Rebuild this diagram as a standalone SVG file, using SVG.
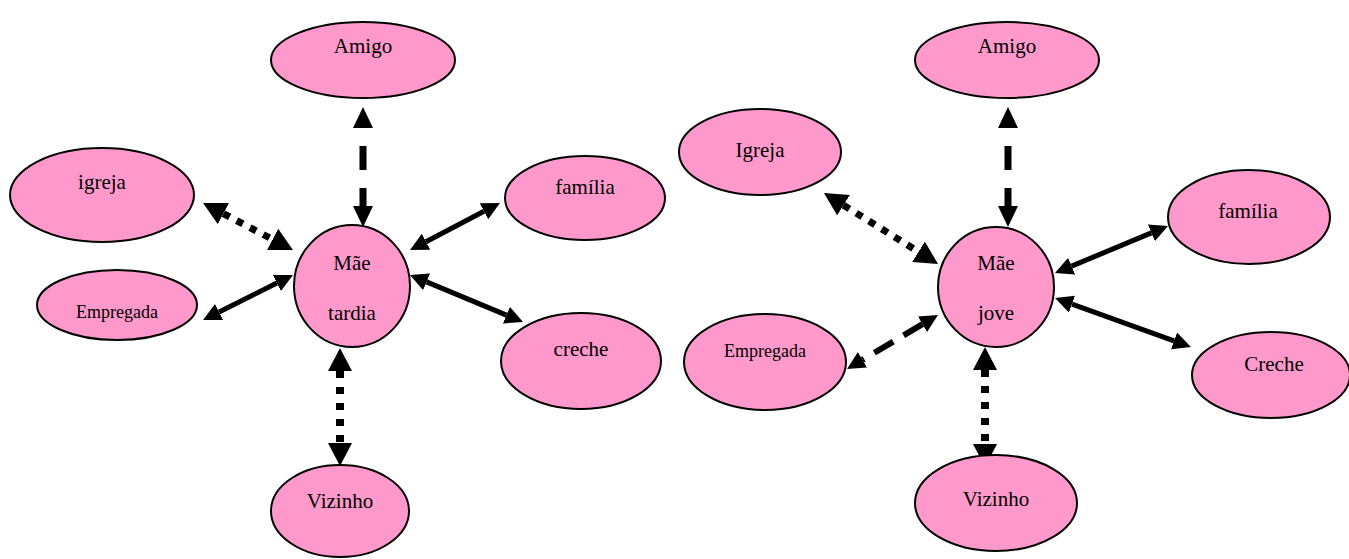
<svg xmlns="http://www.w3.org/2000/svg" width="1349" height="559" viewBox="0 0 1349 559">
<style>
.n ellipse{fill:#FF99CC;stroke:#000;stroke-width:2}
.n text{font-family:'Liberation Serif','DejaVu Serif',serif;font-size:21px;fill:#000;text-anchor:middle}
.n text.s{font-size:18px}
.c line{stroke:#000;fill:none}
.solid{stroke-width:5}
.dash{stroke-width:7;stroke-dasharray:24 18;stroke-dashoffset:24}
.dash2{stroke-width:6;stroke-dasharray:22 12}
.dot{stroke-width:7;stroke-dasharray:7 8}
.dotv{stroke-width:8;stroke-dasharray:7 9}
</style>
<defs>
<marker id="hs" markerUnits="userSpaceOnUse" markerWidth="20" markerHeight="18" refX="0" refY="9" orient="auto-start-reverse" viewBox="0 0 20 18"><path d="M0,0 L18,9 L0,18 z" fill="#000"/></marker>
<marker id="hd" markerUnits="userSpaceOnUse" markerWidth="22" markerHeight="20" refX="0" refY="10" orient="auto-start-reverse" viewBox="0 0 22 20"><path d="M0,0 L21,10 L0,20 z" fill="#000"/></marker>
<marker id="ht" markerUnits="userSpaceOnUse" markerWidth="24" markerHeight="24" refX="0" refY="12" orient="auto-start-reverse" viewBox="0 0 24 24"><path d="M0,0 L23,12 L0,24 z" fill="#000"/></marker>
</defs>
<g class="c" id="connectors">
<line class="dash" x1="363" y1="128" x2="363" y2="206" marker-start="url(#hd)" marker-end="url(#hd)"/>
<line class="dot" x1="223.4" y1="213.6" x2="272.6" y2="239.4" marker-start="url(#ht)" marker-end="url(#ht)"/>
<line class="solid" x1="484" y1="211.3" x2="426" y2="241.7" marker-start="url(#hs)" marker-end="url(#hs)"/>
<line class="solid" x1="276.9" y1="283.1" x2="219.1" y2="311.9" marker-start="url(#hs)" marker-end="url(#hs)"/>
<line class="solid" x1="426.6" y1="281.9" x2="506.4" y2="315.1" marker-start="url(#hs)" marker-end="url(#hs)"/>
<line class="dotv" x1="340" y1="371" x2="340" y2="443" marker-start="url(#ht)" marker-end="url(#ht)"/>
<line class="dash" x1="1008" y1="128" x2="1008" y2="206" marker-start="url(#hd)" marker-end="url(#hd)"/>
<line class="dot" x1="843.5" y1="205.2" x2="918.5" y2="251.8" marker-start="url(#ht)" marker-end="url(#ht)"/>
<line class="solid" x1="1151.4" y1="232.9" x2="1071.6" y2="266.1" marker-start="url(#hs)" marker-end="url(#hs)"/>
<line class="solid" x1="1072" y1="304.1" x2="1174" y2="340.9" marker-start="url(#hs)" marker-end="url(#hs)"/>
<line class="dash2" x1="922.5" y1="324.2" x2="862.5" y2="359.8" marker-start="url(#hs)" marker-end="url(#hs)"/>
<line class="dotv" x1="985" y1="370" x2="985" y2="444" marker-start="url(#ht)" marker-end="url(#ht)"/>
</g>
<g class="n" id="l-amigo"><ellipse cx="363" cy="60" rx="92" ry="38"/><text x="363" y="53" font-family="Liberation Serif, serif">Amigo</text></g>
<g class="n" id="l-igreja"><ellipse cx="102" cy="195" rx="92" ry="47"/><text x="102" y="189" font-family="Liberation Serif, serif">igreja</text></g>
<g class="n" id="l-familia"><ellipse cx="585" cy="198" rx="80" ry="42"/><text x="585" y="194" font-family="Liberation Serif, serif">família</text></g>
<g class="n" id="l-empregada"><ellipse cx="117" cy="305" rx="80" ry="35"/><text class="s" x="117" y="318" font-family="Liberation Serif, serif">Empregada</text></g>
<g class="n" id="l-mae"><ellipse cx="352" cy="286" rx="58" ry="61"/><text x="352" y="270" font-family="Liberation Serif, serif">Mãe</text><text x="352" y="320" font-family="Liberation Serif, serif">tardia</text></g>
<g class="n" id="l-creche"><ellipse cx="581" cy="361" rx="80" ry="48"/><text x="581" y="356" font-family="Liberation Serif, serif">creche</text></g>
<g class="n" id="l-vizinho"><ellipse cx="340" cy="511" rx="69" ry="46"/><text x="340" y="508" font-family="Liberation Serif, serif">Vizinho</text></g>
<g class="n" id="r-amigo"><ellipse cx="1007" cy="60" rx="92" ry="38"/><text x="1007" y="53" font-family="Liberation Serif, serif">Amigo</text></g>
<g class="n" id="r-igreja"><ellipse cx="760" cy="152" rx="81" ry="43"/><text x="760" y="157" font-family="Liberation Serif, serif">Igreja</text></g>
<g class="n" id="r-familia"><ellipse cx="1249" cy="217" rx="81" ry="47"/><text x="1248" y="218" font-family="Liberation Serif, serif">família</text></g>
<g class="n" id="r-empregada"><ellipse cx="765" cy="362" rx="81" ry="48"/><text class="s" x="765" y="357" font-family="Liberation Serif, serif">Empregada</text></g>
<g class="n" id="r-mae"><ellipse cx="996" cy="287" rx="58" ry="60"/><text x="996" y="270" font-family="Liberation Serif, serif">Mãe</text><text x="996" y="320" font-family="Liberation Serif, serif">jove</text></g>
<g class="n" id="r-creche"><ellipse cx="1271" cy="375" rx="79" ry="43"/><text x="1274" y="371" font-family="Liberation Serif, serif">Creche</text></g>
<g class="n" id="r-vizinho"><ellipse cx="996" cy="503" rx="81" ry="48"/><text x="996" y="506" font-family="Liberation Serif, serif">Vizinho</text></g>
</svg>
